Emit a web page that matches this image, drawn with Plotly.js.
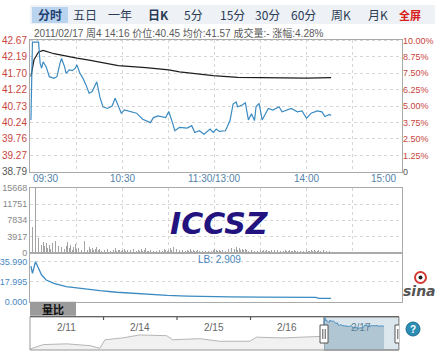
<!DOCTYPE html>
<html><head><meta charset="utf-8">
<script src="https://cdn.plot.ly/plotly-3.0.1.min.js"></script>
<style>html,body{margin:0;padding:0;background:#fff;}#chart{width:435px;height:355px;}</style>
</head><body><div id="chart"></div>
<script>
// ---------------- data ----------------
const tradeDate = '2011/02/17';
const weekDay = '周4';
const prevClose = 38.79;

const priceTimes = ['09:30','09:31','09:35','09:36','09:37','09:38','09:40','09:42','09:45','09:47','09:49','09:50','09:52','09:53','09:55','09:57','09:59','10:00','10:02','10:04','10:06','10:08','10:10','10:13','10:15','10:17','10:20','10:23','10:25','10:27','10:29','10:31','10:36','10:39','10:43','10:48','10:50','10:53','10:58','11:00','11:02','11:04','11:07','11:12','11:15','11:17','11:20','11:23','11:27','11:29','13:01','13:03','13:07','13:10','13:12','13:14','13:15','13:18','13:20','13:22','13:24','13:26','13:27','13:29','13:31','13:33','13:35','13:38','13:42','13:44','13:47','13:50','13:54','13:57','14:00','14:03','14:07','14:10','14:12','14:15','14:16'];
const priceValues = [40.32,42.62,42.62,42.00,41.85,42.04,41.89,41.60,41.55,41.60,42.00,42.14,41.89,41.70,41.80,41.78,41.85,41.95,41.70,41.55,41.35,41.11,41.16,41.45,41.00,40.71,40.66,40.73,40.96,40.71,40.52,40.62,40.57,40.52,40.34,40.24,40.39,40.44,40.39,40.57,40.30,40.00,40.10,40.08,40.15,39.95,40.00,39.90,40.05,39.95,40.05,39.98,40.00,40.30,40.79,40.85,40.71,40.76,40.83,40.32,40.50,40.30,40.71,40.81,40.32,40.47,40.66,40.61,40.71,40.56,40.61,40.66,40.56,40.59,40.37,40.52,40.59,40.56,40.42,40.48,40.45];

const avgTimes = ['09:30','09:32','09:35','09:38','09:45','09:52','10:00','10:08','10:15','10:27','10:45','11:00','11:07','11:20','11:29','13:15','13:40','14:00','14:16'];
const avgValues = [41.60,42.10,42.33,42.38,42.28,42.21,42.15,42.09,42.03,41.93,41.87,41.80,41.74,41.67,41.63,41.58,41.56,41.56,41.57];

// per-minute volume starting 09:30
const volumes = [
7480,6270,5050,15668,6000,3500,3000,1800,2600,1500,
2200,1200,1900,900,2400,1300,2700,1100,1600,2900,
1400,2100,800,1500,2500,1000,1800,700,1300,2000,
900,1200,1600,700,1100,2800,900,600,1400,800,
1200,500,900,1300,600,800,400,1000,700,500,
900,600,300,800,500,1100,400,600,700,300,
500,800,400,600,300,700,500,900,400,300,
600,400,800,300,500,1000,400,300,600,500,
400,700,300,500,600,400,300,800,500,400,
600,1100,500,1300,400,900,1500,600,400,700,
500,300,600,400,800,300,500,400,300,600,
400,700,300,500,400,600,300,500,400,700,
900,
500,400,600,300,500,700,400,600,800,1000,
1200,1500,900,1300,700,1100,600,800,500,900,
700,400,600,500,800,300,600,400,500,700,
300,500,400,600,300,400,700,300,500,400,
600,300,400,500,300,600,400,300,500,400,
300,600,400,300,500,400,700,300,400,500,
300,400,600,300,500,400,300,500,400,300,
600,400,300,500,400,600];

const lbTimes = ['09:30','09:31','09:33','09:35','09:37','09:40','09:45','09:53','10:04','10:15','10:26','10:37','10:48','10:59','11:12','11:25','13:10','13:30','13:50','14:06','14:08','14:16'];
const lbValues = [32.0,25.5,36.0,30.0,24.0,19.5,16.5,13.5,11.4,9.9,8.5,7.5,6.6,5.7,5.1,4.5,4.3,4.1,4.0,3.8,3.0,2.909];

const priceTickVals = [42.67,42.19,41.70,41.22,40.73,40.24,39.76,39.27,38.79];
const pctTickText = ['10.00%','8.75%','7.50%','6.25%','5.00%','3.75%','2.50%','1.25%','0'];
const volTickVals = [0,3917,7834,11751,15668];
const lbTickVals = [0,17.995,35.99];
const lbTickText = ['0.000','17.995','35.990'];
const timeLabels = ['09:30','10:30','11:30/13:00','14:00','15:00'];
const gridTimes = ['10:00','10:30','11:00','11:30','13:30','14:00','14:30'];

// navigator (5 trading days, 2/11 .. 2/17)
const navDayLabels = ['2/11','2/14','2/15','2/16','2/17'];
const navDays = [0,0.18,0.5,0.82,0.95,1.02,1.26,1.49,1.86,1.94,2.31,2.58,2.99,3.08,3.44,3.94,4.0];
const navValues = [34.3,35.5,35.7,35.2,34.5,36.8,37.3,38.1,37.9,36.8,37.1,36.4,36.4,37.5,37.3,37.7,38.79];

const tabs = ['分时','五日','一年','日K','5分','15分','30分','60分','周K','月K'];
const tabX = [50,85,120,158,193.5,232,267,303,341,377.5];

// ---------------- helpers ----------------
const W = 435, H = 355;
const px = x => x / W;
const py = y => 1 - y / H;
function idx(t){ const [h,m]=t.split(':').map(Number); const tot=h*60+m; return tot<=690 ? tot-570 : 120+(tot-780); }

const NUM = 'Liberation Sans, Arial, sans-serif';
const CJK = 'Noto Sans CJK SC, sans-serif';
const RED = '#c8453e';
const BLUE = '#3b8bc2';

const xDom = [px(30), px(402)];
const xRange = [-0.6, 242.3];

const lastPrice = priceValues[priceValues.length-1];
const lastAvg = avgValues[avgValues.length-1];
const pct = ((lastPrice-prevClose)/prevClose*100).toFixed(2);
const infoText = `${tradeDate} ${weekDay} ${priceTimes[priceTimes.length-1]} 价位:${lastPrice.toFixed(2)} 均价:${lastAvg.toFixed(2)} 成交量:- 涨幅:${pct}%`;

// ---------------- traces ----------------
const traces = [
  {x: avgTimes.map(idx), y: avgValues, xaxis:'x', yaxis:'y', mode:'lines', line:{color:'#1e1e1e', width:1.2}, hoverinfo:'skip'},
  {x: priceTimes.map(idx), y: priceValues, xaxis:'x', yaxis:'y', mode:'lines', line:{color:BLUE, width:1.2}, hoverinfo:'skip'},
  {x:[0], y:[40], xaxis:'x', yaxis:'y2', mode:'markers', marker:{opacity:0}, hoverinfo:'skip'},
  {type:'bar', x: volumes.map((v,i)=>i), y: volumes, xaxis:'x2', yaxis:'y3', width:0.5, marker:{color:'#a3a3a3', line:{width:0}}, hoverinfo:'skip'},
  {x: lbTimes.map(idx), y: lbValues, xaxis:'x3', yaxis:'y4', mode:'lines', line:{color:BLUE, width:1.3}, hoverinfo:'skip'},
  {x: navDays, y: navValues, xaxis:'x4', yaxis:'y5', mode:'lines', fill:'tozeroy', fillcolor:'#f1f1f1', line:{color:'#b5b5b5', width:1}, hoverinfo:'skip'},
  {x: priceTimes.map(t=>4+idx(t)/240), y: priceValues, xaxis:'x4', yaxis:'y5', mode:'lines', fill:'tozeroy', fillcolor:'rgba(140,172,188,0.55)', line:{color:'#4a8fbf', width:1}, hoverinfo:'skip'}
];

// ---------------- layout ----------------
const gridX = gridTimes.map(idx);
const axBase = {showline:true, mirror:true, linecolor:'#aaa', linewidth:1, zeroline:false, ticks:'', fixedrange:true};

const shapes = [
  {type:'rect', xref:'paper', yref:'paper', x0:px(30), x1:1, y0:py(24), y1:py(5), fillcolor:'#eef2f7', line:{width:0}, layer:'below'},
  {type:'rect', xref:'paper', yref:'paper', x0:px(32), x1:px(68), y0:py(23), y1:py(7), fillcolor:'#bad3ee', line:{width:0}, layer:'below'},
  {type:'rect', xref:'paper', yref:'paper', x0:px(30), x1:px(76), y0:py(315.7), y1:py(301.7), fillcolor:'#9b9b9b', line:{width:0}},
  {type:'rect', xref:'x4', yref:'paper', x0:4, x1:5.02, y0:py(350), y1:py(316.7), fillcolor:'#dbe7ed', line:{color:'#666', width:1}, layer:'below'},
  {type:'rect', xref:'paper', yref:'paper', x0:px(30), x1:px(399), y0:py(350), y1:py(316.7), fillcolor:'rgba(0,0,0,0)', line:{color:'#999', width:1}},
  {type:'line', xref:'paper', yref:'paper', x0:px(30), x1:px(399), y0:py(316.7), y1:py(316.7), line:{color:'#666', width:1.2}},
];
[1,2,3].forEach(d=>shapes.push({type:'line', xref:'x4', yref:'paper', x0:d, x1:d, y0:py(316.7), y1:py(320), line:{color:'#555', width:1.2}}));
[4,5.02].forEach(d=>{
  shapes.push({type:'rect', xref:'x4', xsizemode:'pixel', xanchor:d, x0:-4, x1:4, yref:'paper', y0:py(343), y1:py(325), fillcolor:'#fff', line:{color:'#555', width:1}});
  shapes.push({type:'line', xref:'x4', xsizemode:'pixel', xanchor:d, x0:-1.2, x1:-1.2, yref:'paper', y0:py(339), y1:py(329), line:{color:'#555', width:1}});
  shapes.push({type:'line', xref:'x4', xsizemode:'pixel', xanchor:d, x0:1.2, x1:1.2, yref:'paper', y0:py(339), y1:py(329), line:{color:'#555', width:1}});
});
shapes.push({type:'circle', xref:'paper', yref:'paper', x0:px(406), x1:px(420), y0:py(336), y1:py(322), fillcolor:'#2c8db4', line:{color:'#1f6e8e', width:1}});
shapes.push({type:'circle', xref:'paper', yref:'paper', x0:px(415), x1:px(426), y0:py(283), y1:py(272), fillcolor:'#fff', line:{color:'#d23a32', width:2}});
shapes.push({type:'circle', xref:'paper', yref:'paper', x0:px(418.5), x1:px(422.5), y0:py(279.5), y1:py(275.5), fillcolor:'#222', line:{width:0}});

const annotations = [];
tabs.forEach((t,i)=>annotations.push({xref:'paper', yref:'paper', x:px(tabX[i]), y:py(15), text: (i===0||i===3)?`<b>${t}</b>`:t, showarrow:false, xanchor:'center', yanchor:'middle', font:{family:CJK, size:12, color: i===0?'#1f3f70':'#2b3a55'}}));
annotations.push({xref:'paper', yref:'paper', x:px(410), y:py(15), text:'<b>全屏</b>', showarrow:false, xanchor:'center', yanchor:'middle', font:{family:CJK, size:11, color:'#d8201a'}});
annotations.push({xref:'paper', yref:'paper', x:px(32), y:py(33), text:infoText, showarrow:false, xanchor:'left', yanchor:'middle', font:{family:NUM+', '+CJK, size:10, color:'#5a5a5a'}});
timeLabels.forEach((t,i)=>{
  const m = i===2 ? 120 : idx(t);
  annotations.push({xref:'x', yref:'paper', x:m, y:py(178), text:t, showarrow:false, xanchor: i===0?'left':(i===timeLabels.length-1?'right':'center'), yanchor:'middle', font:{family:NUM, size:10, color:'#5582aa'}});
});
annotations.push({xref:'paper', yref:'paper', x:px(219), y:py(223), text:'<b><i>ICCSZ</i></b>', showarrow:false, xanchor:'center', yanchor:'middle', font:{family:'DejaVu Sans', size:30, color:'#23137f'}});
annotations.push({xref:'paper', yref:'paper', x:px(196), y:py(259), text:'LB: '+lbValues[lbValues.length-1].toFixed(3), showarrow:false, xanchor:'left', yanchor:'middle', font:{family:NUM, size:10, color:'#4a88c0'}});
annotations.push({xref:'paper', yref:'paper', x:px(53), y:py(308.7), text:'<b>量比</b>', showarrow:false, xanchor:'center', yanchor:'middle', font:{family:CJK, size:11, color:'#111'}});
navDayLabels.forEach((t,i)=>annotations.push({xref:'x4', yref:'paper', x:i+0.5, y:py(327), text:t, showarrow:false, xanchor:'center', yanchor:'middle', font:{family:NUM, size:10, color: i===4?'#5a7f98':'#666'}}));
annotations.push({xref:'paper', yref:'paper', x:px(413), y:py(329), text:'<b>?</b>', showarrow:false, xanchor:'center', yanchor:'middle', font:{family:NUM, size:10, color:'#fff'}});
annotations.push({xref:'paper', yref:'paper', x:px(419), y:py(291), text:'<i><b>sina</b></i>', showarrow:false, xanchor:'center', yanchor:'middle', font:{family:'DejaVu Sans', size:14, color:'#555'}});

const priceTickText = priceTickVals.map(v => v===prevClose ? `<span style="color:#555">${v.toFixed(2)}</span>` : v.toFixed(2));
const pctText = pctTickText.map(t => t==='0' ? `<span style="color:#555">${t}</span>` : t);

const layout = {
  width:W, height:H, margin:{l:0,r:0,t:0,b:0}, paper_bgcolor:'#fff', plot_bgcolor:'#fff', showlegend:false,
  xaxis: Object.assign({}, axBase, {domain:xDom, range:xRange, anchor:'y', tickvals:gridX, showticklabels:false, showgrid:true, gridcolor:'#d6d6d6', griddash:'dot'}),
  yaxis: Object.assign({}, axBase, {domain:[py(172), py(39.5)], range:[38.78,42.70], tickvals:priceTickVals, ticktext:priceTickText, showgrid:true, gridcolor:'#d6d6d6', griddash:'dot', tickfont:{family:NUM, size:10, color:RED}}),
  yaxis2: {overlaying:'y', side:'right', anchor:'x', range:[38.78,42.70], tickvals:priceTickVals, ticktext:pctText, showgrid:false, zeroline:false, showline:false, ticks:'', tickfont:{family:NUM, size:9, color:RED}, fixedrange:true},
  xaxis2: Object.assign({}, axBase, {domain:xDom, range:xRange, anchor:'y3', tickvals:gridX, showticklabels:false, showgrid:true, gridcolor:'#d6d6d6', griddash:'dot'}),
  yaxis3: Object.assign({}, axBase, {domain:[py(252.5), py(188)], range:[0,15668], tickvals:volTickVals, ticktext:volTickVals.map(String), showgrid:true, gridcolor:'#d6d6d6', griddash:'dot', tickfont:{family:NUM, size:9, color:'#888'}}),
  xaxis3: Object.assign({}, axBase, {domain:xDom, range:xRange, anchor:'y4', showticklabels:false, showgrid:false}),
  yaxis4: Object.assign({}, axBase, {domain:[py(301.7), py(253)], range:[0,43.8], tickvals:lbTickVals, ticktext:lbTickText, showgrid:true, gridcolor:'#d6d6d6', griddash:'dot', tickfont:{family:NUM, size:9, color:'#4a88c0'}}),
  xaxis4: {domain:[px(30), px(399)], range:[0,5.02], anchor:'y5', visible:false, fixedrange:true},
  yaxis5: {domain:[py(350), py(316.7)], range:[34.04,43.03], visible:false, fixedrange:true},
  shapes, annotations, bargap:0
};

Plotly.newPlot('chart', traces, layout, {staticPlot:true, displayModeBar:false});
</script>
</body></html>
